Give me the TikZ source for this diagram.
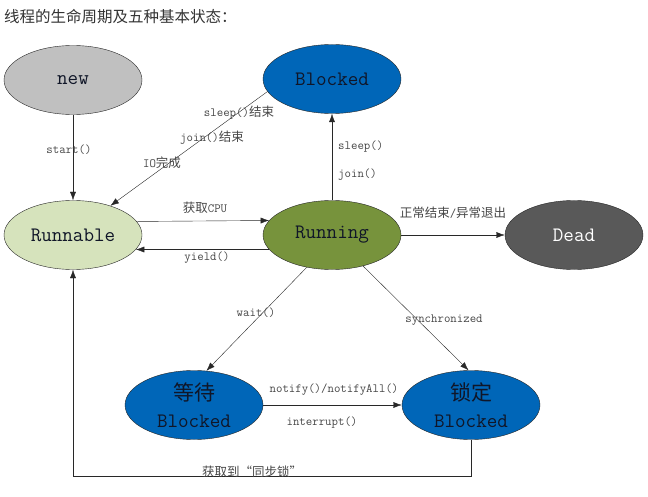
\documentclass[tikz,border=0pt]{standalone}
\usepackage{fontspec}
\newfontfamily\cjk{Noto Sans CJK SC}
\usetikzlibrary{arrows.meta, shapes.geometric}
\definecolor{newgray}{RGB}{192,192,192}
\definecolor{blkblue}{RGB}{0,102,184}
\definecolor{runnablegreen}{RGB}{214,227,188}
\definecolor{runninggreen}{RGB}{119,147,60}
\definecolor{deadgray}{RGB}{89,89,89}
\definecolor{linegray}{RGB}{40,40,40}
\definecolor{labelgray}{RGB}{70,70,70}
\definecolor{statetext}{RGB}{16,22,40}
\newcommand\zh[1]{{\cjk #1}}

\begin{document}
\begin{tikzpicture}[
    x=1pt, y=-1pt,
    state/.style={
        ellipse,
        draw=linegray,
        thin,
        minimum width=138pt,
        minimum height=69pt,
        inner sep=0pt,
        align=center,
        text=statetext,
        font=\fontsize{20.5}{27}\selectfont\ttfamily
    },
    lbl/.style={
        inner sep=0pt,
        text=labelgray,
        font=\fontsize{12.5}{14}\selectfont\ttfamily
    },
    arrow/.style={-{Latex[length=8.5pt,width=6pt]}, thin, color=linegray}
]
\useasboundingbox (0,0) rectangle (648,497);

% title
\node[anchor=west, inner sep=0pt, text=black!80, font=\cjk\fontsize{15.5}{17}\selectfont] (title) at (4,17) {线程的生命周期及五种基本状态：};

% states
\node[state, fill=newgray] (new) at (73,80) {new};
\node[state, fill=blkblue] (blk) at (332,79) {Blocked};
\node[state, fill=runnablegreen] (runa) at (73,235) {Runnable};
\node[state, fill=runninggreen] (rung) at (332,235) {Running};
\node[state, fill=deadgray, text=white] (dead) at (574,235) {Dead};
\node[state, fill=blkblue] (wait) at (194,405) {{\cjk\fontsize{21}{27}\selectfont 等待}\\Blocked};
\node[state, fill=blkblue] (lock) at (471,405) {{\cjk\fontsize{21}{27}\selectfont 锁定}\\Blocked};

% connectors
\draw[arrow] (new) -- (runa);
\draw[arrow] (blk.191) -- (runa.38);
\draw[arrow] (rung) -- (blk);
\draw[arrow] (runa.12.5) -- (rung.167.5);
\draw[arrow] (rung.193.5) -- (runa.-13.5);
\draw[arrow] (rung) -- (dead);
\draw[arrow] (rung.232) -- (wait.70);
\draw[arrow] (rung.315) -- (lock.94);
\draw[arrow] (wait) -- (lock);
\coordinate (bottom) at (0,476);
\draw[arrow] (lock.south) -- (lock.south |- bottom) -| (runa.south);

% labels
\node[lbl] (lstart) at (69,150) {start()};
\node[lbl] (lsleepend) at (239,113) {sleep()\zh{结束}};
\node[lbl] (ljoinend) at (212,138) {join()\zh{结束}};
\node[lbl] (lio) at (162,163) {IO\zh{完成}};
\node[lbl] (lcpu) at (205,208) {\zh{获取}CPU};
\node[lbl] (lyield) at (207,258) {yield()};
\node[lbl, anchor=west] (lsleep) at (338,147) {sleep()};
\node[lbl, anchor=west] (ljoin) at (338,175) {join()};
\node[lbl] (lexit) at (453,213) {\zh{正常结束}/\zh{异常退出}};
\node[lbl] (lwait) at (256,313) {wait()};
\node[lbl] (lsync) at (444,320) {synchronized};
\node[lbl] (lnotify) at (334,390) {notify()/notifyAll()};
\node[lbl] (linter) at (322,423) {interrupt()};
\node[lbl] (llock) at (252,472) {\zh{获取到“同步锁”}};

\end{tikzpicture}
\end{document}
